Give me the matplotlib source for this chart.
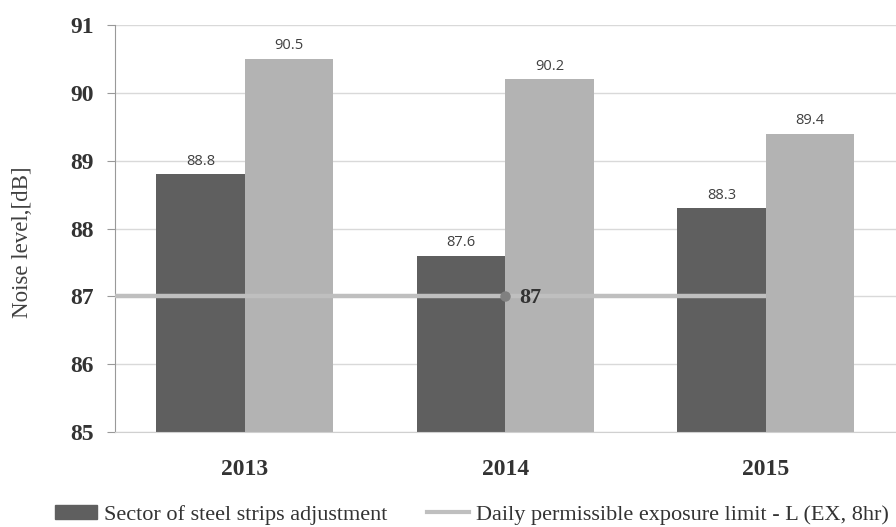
import numpy as np
import matplotlib.pyplot as plt
from matplotlib.patches import Patch
from matplotlib.lines import Line2D

years = ['2013', '2014', '2015']
steel_strips = [88.8, 87.6, 88.3]
second_sector = [90.5, 90.2, 89.4]
exposure_limit = 87

dark = '#5f5f5f'
light = '#b3b3b3'

fig = plt.figure(figsize=(8.96, 5.27), dpi=100)
ax = fig.add_axes([0.128, 0.180, 0.872, 0.7726])

x = np.arange(len(years))
w = 0.34
ax.bar(x - w / 2, np.array(steel_strips) - 85, w, bottom=85, color=dark, zorder=2)
ax.bar(x + w / 2, np.array(second_sector) - 85, w, bottom=85, color=light, zorder=2)

for xi, v in zip(x - w / 2, steel_strips):
    ax.annotate(f'{v}', (xi, v), xytext=(0, 4), textcoords='offset points',
                ha='center', va='bottom', fontsize=10.5, family='Open Sans', color='#404040')
for xi, v in zip(x + w / 2, second_sector):
    ax.annotate(f'{v}', (xi, v), xytext=(0, 4), textcoords='offset points',
                ha='center', va='bottom', fontsize=10.5, family='Open Sans', color='#404040')

# permissible limit line
ax.plot([-0.5, x[-1]], [exposure_limit, exposure_limit], color='#bfbfbf', lw=3.2, zorder=3,
        solid_capstyle='butt')
ax.plot([x[1]], [exposure_limit], 'o', color='#808080', ms=6.5, zorder=4)
ax.annotate(f'{exposure_limit}', (x[1], exposure_limit), xytext=(10, -1), textcoords='offset points',
            ha='left', va='center', fontsize=16, fontweight='bold', family='Liberation Serif',
            color='#333333', zorder=5)

ax.set_xlim(-0.5, 2.5)
ax.set_ylim(85, 91)
ax.set_yticks(range(85, 92))
ax.set_xticks(x)
ax.set_xticklabels(years)
ax.grid(axis='y', color='#d9d9d9', lw=1, zorder=0)
ax.set_axisbelow(True)

for s in ['top', 'right']:
    ax.spines[s].set_visible(False)
ax.spines['left'].set_color('#999999')
ax.spines['bottom'].set_color('#d0d0d0')
ax.tick_params(axis='y', length=6, color='#999999', pad=9, labelsize=17, labelcolor='#333333')
ax.tick_params(axis='x', length=0, pad=19, labelsize=17, labelcolor='#333333')
for lab in ax.get_yticklabels() + ax.get_xticklabels():
    lab.set_family('Liberation Serif')
    lab.set_fontweight('bold')

ax.set_ylabel('Noise level,[dB]', family='Liberation Serif', fontsize=16.5, color='#404040')
ax.yaxis.set_label_coords(-0.104, 0.467)

handles = [Patch(color=dark), Line2D([], [], color='#bfbfbf', lw=3)]
labels = ['Sector of steel strips adjustment', 'Daily permissible exposure limit - L (EX, 8hr)']
fig.legend(handles, labels, loc='center left', bbox_to_anchor=(0.061, 0.023), ncol=2, frameon=False,
           prop={'family': 'Liberation Serif', 'size': 16}, handlelength=1.9, handleheight=0.6,
           columnspacing=1.8, handletextpad=0.3, borderpad=0, borderaxespad=0, labelcolor='#333333')

fig.savefig('out.png', dpi=100)
